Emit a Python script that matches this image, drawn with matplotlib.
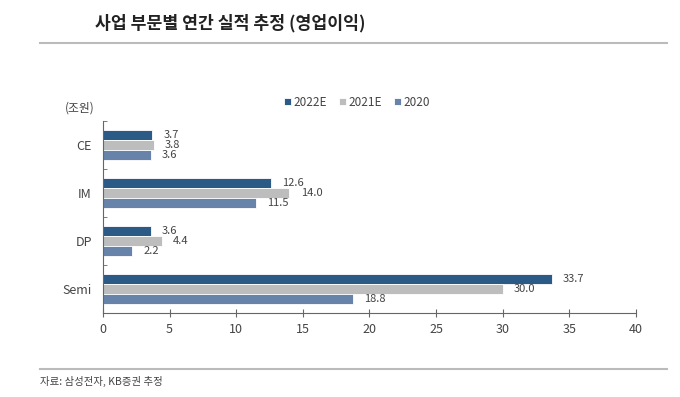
import matplotlib
matplotlib.use("Agg")
import matplotlib.pyplot as plt
import numpy as np

plt.rcParams['font.family'] = ['Noto Sans CJK KR', 'DejaVu Sans']

categories = ["CE", "IM", "DP", "Semi"]
series = ["2022E", "2021E", "2020"]
v2022 = [3.7, 12.6, 3.6, 33.7]
v2021 = [3.8, 14.0, 4.4, 30.0]
v2020 = [3.6, 11.5, 2.2, 18.8]
colors = ["#2b5a87", "#bdbdbd", "#6783aa"]
xticks = [0, 5, 10, 15, 20, 25, 30, 35, 40]

fig = plt.figure(figsize=(6.8, 3.97), dpi=100)
ax = fig.add_axes([0.1515, 0.212, 0.7835, 0.483])

y = np.arange(len(categories))
h = 0.21
for i, (name, vals) in enumerate(zip(series, [v2022, v2021, v2020])):
    bars = ax.barh(y + (i - 1) * h, vals, height=h, color=colors[i],
                   edgecolor="white", linewidth=0.6, label=name)
    for b, v in zip(bars, vals):
        ax.annotate(f"{v:.1f}", (b.get_width(), b.get_y() + b.get_height() / 2),
                    xytext=(8, 0), textcoords="offset points",
                    va="center", ha="left", fontsize=8, color="#444444")

ax.set_ylim(3.5, -0.5)
ax.set_xlim(0, 40)
ax.set_xticks(xticks)
ax.set_yticks(y)
ax.set_yticklabels(categories)
ax.set_yticks(np.arange(-0.5, 4, 1), minor=True)
ax.tick_params(axis="y", which="major", length=0, pad=8, labelsize=9, labelcolor="#444444")
ax.tick_params(axis="y", which="minor", direction="in", length=3, color="#666666")
ax.tick_params(axis="x", direction="inout", length=6, color="#666666", labelsize=9,
               labelcolor="#444444", pad=4)
for s in ["top", "right"]:
    ax.spines[s].set_visible(False)
for s in ["left", "bottom"]:
    ax.spines[s].set_color("#666666")
    ax.spines[s].set_linewidth(0.8)

fig.legend(loc="center", bbox_to_anchor=(357 / 680, 1 - 102 / 397), ncol=3, frameon=False,
           fontsize=8.5, handlelength=0.6, handleheight=0.6, handletextpad=0.2,
           columnspacing=1.0, labelcolor="#444444")

fig.text(65 / 680, 1 - 108 / 397, "(조원)", fontsize=8.5, color="#444444", va="center")
fig.text(95 / 680, 1 - 23 / 397, "사업 부문별 연간 실적 추정 (영업이익)", fontsize=12.4,
         fontweight="bold", color="#222222", va="center")
fig.add_artist(plt.Line2D([40 / 680, 667 / 680], [1 - 43 / 397] * 2, color="#bbbbbb", lw=1.5))
fig.add_artist(plt.Line2D([40 / 680, 667 / 680], [1 - 369 / 397] * 2, color="#bbbbbb", lw=1.5))
fig.text(40 / 680, 1 - 381 / 397, "자료: 삼성전자, KB증권 추정", fontsize=7.5, color="#444444", va="center")

fig.savefig("out.png", dpi=100)
